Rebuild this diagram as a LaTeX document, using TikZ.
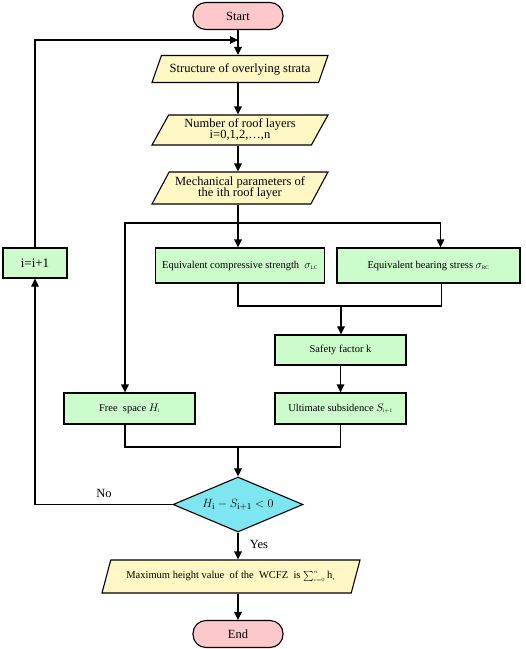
\documentclass[tikz,border=0pt]{standalone}
\usepackage{fontspec}
\setmainfont{Liberation Serif}
\usetikzlibrary{arrows.meta,shapes.geometric}
\definecolor{termpink}{HTML}{FCC8CA}
\definecolor{iocream}{HTML}{FFF8C4}
\definecolor{procgreen}{HTML}{CCFCCC}
\definecolor{deccyan}{HTML}{7DE6F0}

\begin{document}
\begin{tikzpicture}[x=1pt,y=-1pt]
	\tikzstyle{startstop}=[draw,line width=1.1pt,fill=termpink,rounded corners=13pt,minimum width=90pt,minimum height=27pt,font=\fontsize{12.5}{13}\selectfont]
	\tikzstyle{io}=[draw,line width=1.1pt,fill=iocream,trapezium,trapezium left angle=55,trapezium right angle=125,trapezium stretches body,inner sep=1pt,align=center,font=\fontsize{12.5}{13}\selectfont]
	\tikzstyle{process}=[draw,line width=1.1pt,fill=procgreen,minimum height=31pt,inner sep=1pt,font=\fontsize{10.5}{12}\selectfont]
	\tikzstyle{decision}=[draw,line width=1.1pt,fill=deccyan,diamond,aspect=2.4,minimum width=130pt,minimum height=55pt,inner sep=0pt,font=\fontsize{13}{14}\selectfont]
	\tikzstyle{flow}=[line width=1.1pt,-{Triangle[length=8pt,width=7.5pt]}]
	\tikzstyle{link}=[line width=1.1pt]

	\useasboundingbox (0,0) rectangle (526,649);

	% main column
	\node[startstop] (start) at (238,16) {Start};
	\node[io,minimum width=176pt,minimum height=27pt] (strata) at (240,69) {Structure of overlying strata};
	\node[io,minimum width=176pt,minimum height=30pt] (layers) at (240,130) {Number of roof layers\\[-2pt]i=0,1,2,\dots,n};
	\node[io,minimum width=176pt,minimum height=32pt] (mech) at (240,188) {Mechanical parameters of\\[-2pt]the ith roof layer};
	\node[process,minimum width=169pt,minimum height=35pt] (comp) at (240,265.5) {Equivalent compressive strength \ $\sigma_{\scriptscriptstyle\mathrm{LC}}$};
	\node[process,minimum width=183pt,minimum height=35pt] (bear) at (428.5,265.5) {Equivalent bearing stress $\sigma_{\scriptscriptstyle\mathrm{RC}}$};
	\node[process,minimum width=131pt,minimum height=30pt] (safe) at (340.5,350) {Safety factor k};
	\node[process,minimum width=131pt] (free) at (129.5,408.5) {Free \ space $H_{\scriptscriptstyle\mathrm{i}}$};
	\node[process,minimum width=131pt] (ult) at (340.5,408.5) {Ultimate subsidence $S_{\scriptscriptstyle\mathrm{i+1}}$};
	\node[decision] (dec) at (238,504.5) {$H_{\mathrm{i}}-S_{\mathrm{i+1}}<0$};
	\node[io,minimum width=258pt,minimum height=33pt,font=\fontsize{10.5}{12}\selectfont] (maxh) at (231,576.5) {Maximum height value \ of the \ WCFZ \ is $\sum_{\scriptscriptstyle i=0}^{\scriptscriptstyle n}\mathrm{h}_{\scriptscriptstyle i}$};
	\node[startstop] (end) at (238,634) {End};
	\node[process,minimum width=64pt,minimum height=30pt,font=\fontsize{13}{14}\selectfont] (inc) at (35,263) {i=i+1};

	% labels
	\node[font=\fontsize{12.5}{13}\selectfont] (no) at (104,493) {No};
	\node[font=\fontsize{12.5}{13}\selectfont] (yes) at (259,544) {Yes};

	% connectors
	\coordinate (loopin) at (238,40);
	\coordinate (top) at (238,223);
	\coordinate (mid) at (341,306);
	\coordinate (low) at (238,447);
	\draw[flow] (start) -- (strata.north -| start);
	\draw[flow] (strata.south -| start) -- (layers.north -| start);
	\draw[flow] (layers.south -| start) -- (mech.north -| start);
	\draw[link] (mech.south -| start) -- (top);
	\draw[flow] (top) -- (top |- comp.north);
	\draw[flow] (top) -| ([xshift=12pt]bear.north);
	\draw[flow] (top) -| (free.north -| 125,0);
	\draw[link] (comp.south -| top) |- (mid) -| ([xshift=13pt]bear.south);
	\draw[flow] (mid) -- (mid |- safe.north);
	\draw[flow] (safe) -- (ult);
	\draw[link] (free.south -| 125,0) |- (low) -| (ult.south);
	\draw[flow] (low) -- (dec.north);
	\draw[flow] (dec.south) -- (dec.south |- maxh.north);
	\draw[flow] (maxh.south -| end) -- (end);
	\draw[flow] (dec.west) -| (inc.south);
	\draw[link] (inc.north) |- ([xshift=-6pt]loopin);
	\draw[flow] ([xshift=-6pt]loopin) -- (loopin);
\end{tikzpicture}
\end{document}
